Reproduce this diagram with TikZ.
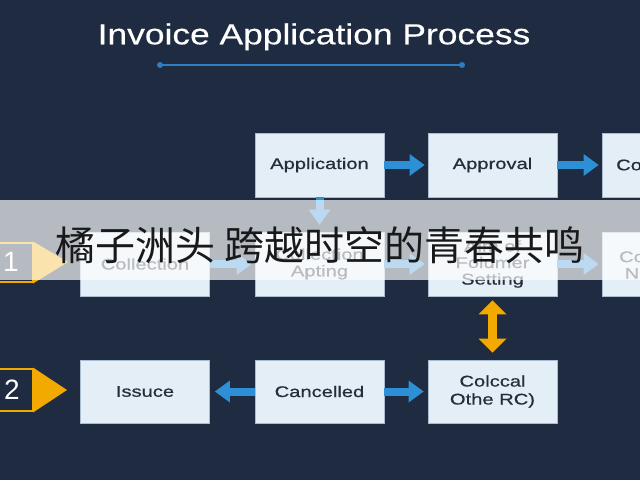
\documentclass[tikz,border=0pt]{standalone}
\usepackage{fontspec}
\setmainfont{Liberation Sans}
\newfontfamily\boxfont{Liberation Sans}[FakeStretch=1.3,FakeBold=0.6]
\newfontfamily\titlefont{Liberation Sans}[FakeStretch=1.22,FakeBold=0.4]
\newfontfamily\cjkfont{Noto Sans CJK SC}
\usetikzlibrary{arrows.meta}
\definecolor{bgnavy}{HTML}{1E2B40}
\definecolor{boxfill}{HTML}{E4EEF7}
\definecolor{boxline}{HTML}{A9BCD0}
\definecolor{boxtext}{HTML}{262D38}
\definecolor{arrowblue}{HTML}{2D8FD5}
\definecolor{amber}{HTML}{F2A900}
\definecolor{titleblue}{HTML}{2F7DC1}
\begin{document}
\begin{tikzpicture}[x=1pt,y=-1pt,
  procbox/.style={draw=boxline, line width=0.8pt, fill=boxfill,
    minimum width=129pt, minimum height=64pt, inner sep=0pt,
    text=boxtext, align=center,
    font=\boxfont\fontsize{15.5}{16.5}\selectfont},
  boxlabel/.style={text=boxtext, align=center, inner sep=0pt,
    font=\boxfont\fontsize{15.5}{16.5}\selectfont},
  barrow/.style={draw=arrowblue, line width=8pt,
    -{Triangle[width=22pt,length=15pt,line width=0pt]}},
  darrow/.style={draw=amber, line width=9pt,
    {Triangle[width=28pt,length=14pt,line width=0pt]}-{Triangle[width=28pt,length=14pt,line width=0pt]}},
  badgenum/.style={text=white, inner sep=0pt,
    font=\fontsize{28}{28}\selectfont}
]
\clip (0,0) rectangle (640,480);
\fill[bgnavy] (0,0) rectangle (640,480);

% title
\node[text=white, anchor=base, inner sep=0pt,
  font=\titlefont\fontsize{29}{29}\selectfont] (title) at (314,44.3)
  {Invoice Application Process};
\coordinate (ulA) at (160,65);
\coordinate (ulB) at (462,65);
\draw[titleblue, line width=1.5pt] (ulA) -- (ulB);
\fill[titleblue] (ulA) circle (3);
\fill[titleblue] (ulB) circle (3);

% row 1
\node[procbox] (app)  at (319.5,165) {Application};
\node[procbox] (appr) at (492.5,165) {Approval};
\node[procbox] (co1)  at (666.5,165) {};
\node[boxlabel, anchor=west] (co1t) at (616,165) {Co};

% row 2
\node[procbox] (coll) at (145,264) {Collection};
\node[procbox] (apt)  at (319.5,264) {Collection\\Apting};
\node[procbox] (fol)  at (492.5,264) {Aim of\\Folumer\\Setting};
\node[procbox] (co2)  at (666.5,264) {};
\node[boxlabel] (co2t) at (632,265) {Co\\N};

% row 3
\node[procbox, minimum height=63pt] (iss) at (145,391.5) {Issuce};
\node[procbox, minimum height=63pt] (can) at (319.5,391.5) {Cancelled};
\node[procbox, minimum height=63pt] (col) at (492.5,391.5) {Colccal\\[1.5pt]Othe RC)};

% blue arrows
\draw[barrow, shorten >=3pt] (app) -- (appr);
\draw[barrow, shorten >=3pt] (appr) -- (co1);
\draw[barrow, shorten >=7pt] (app) -- (apt);
\draw[barrow, shorten >=3pt] (coll) -- (apt);
\draw[barrow, shorten >=3pt] (apt) -- (fol);
\draw[barrow, shorten >=3pt] (fol) -- (co2);
\draw[barrow, shorten >=5pt] (can) -- (iss);
\draw[barrow, shorten >=4pt] (can) -- (col);

% orange double arrow
\draw[darrow, shorten <=4pt, shorten >=7pt] (fol) -- (col);

% badges
\draw[amber, line width=2.5pt, fill=bgnavy] (-5,243) rectangle (33,282);
\fill[amber] (33,241.5) -- (68,262) -- (33,283.5) -- cycle;
\node[badgenum] (b1) at (11,262) {1};
\draw[amber, line width=2.5pt, fill=bgnavy] (-5,369) rectangle (33,411);
\fill[amber] (33,367.5) -- (67,390) -- (33,412.5) -- cycle;
\node[badgenum] (b2) at (12,390) {2};

% overlay band with caption
\fill[white, opacity=0.68] (0,200) rectangle (640,280);
\node[text=black!90, inner sep=0pt,
  font=\cjkfont\fontsize{40}{40}\selectfont] (cap) at (320,245)
  {橘子洲头 跨越时空的青春共鸣};
\end{tikzpicture}
\end{document}
